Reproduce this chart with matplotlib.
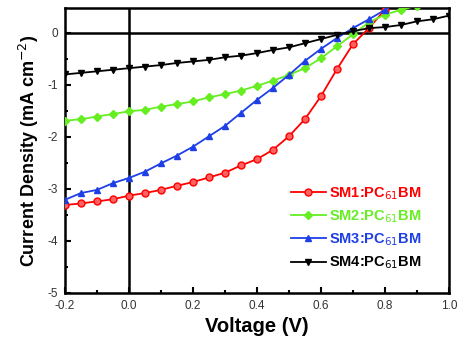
import numpy as np
import matplotlib
matplotlib.use('Agg')
import matplotlib.pyplot as plt
from matplotlib.ticker import MultipleLocator

plt.rcParams['font.family'] = ['Liberation Sans', 'DejaVu Sans']
plt.rcParams['axes.unicode_minus'] = False

voltage = np.round(np.arange(-0.2, 1.001, 0.05), 2)

sm1 = [-3.31, -3.28, -3.24, -3.20, -3.13, -3.08, -3.02, -2.94, -2.87, -2.78, -2.69,
       -2.55, -2.43, -2.25, -1.99, -1.66, -1.22, -0.70, -0.22, 0.09, 0.44, 0.80, 1.2, 1.6, 2.0]
sm2 = [-1.69, -1.66, -1.61, -1.56, -1.51, -1.48, -1.42, -1.37, -1.32, -1.24, -1.18,
       -1.11, -1.02, -0.92, -0.81, -0.68, -0.49, -0.26, -0.03, 0.20, 0.35, 0.44, 0.52, 0.62, 0.75]
sm3 = [-3.21, -3.08, -3.02, -2.89, -2.79, -2.67, -2.51, -2.36, -2.19, -1.99, -1.79,
       -1.54, -1.29, -1.06, -0.81, -0.54, -0.31, -0.10, 0.09, 0.26, 0.44, 0.65, 0.9, 1.2, 1.5]
sm4 = [-0.80, -0.77, -0.74, -0.71, -0.68, -0.65, -0.62, -0.58, -0.55, -0.52, -0.47,
       -0.44, -0.39, -0.33, -0.28, -0.20, -0.12, -0.04, 0.03, 0.09, 0.11, 0.15, 0.22, 0.26, 0.33]

labels = ['SM1:PC$_{61}$BM', 'SM2:PC$_{61}$BM', 'SM3:PC$_{61}$BM', 'SM4:PC$_{61}$BM']
colors = ['#ff0000', '#66ee22', '#1f3fe6', '#000000']
markers = ['o', 'D', '^', 'v']

fig = plt.figure(figsize=(4.74, 3.41), dpi=100)
ax = fig.add_axes([0.137, 0.141, 0.810, 0.836])

series = [sm1, sm2, sm3, sm4]
for ys, c, m, lab in zip(series, colors, markers, labels):
    ms = 5 if m != 'D' else 4.2
    mfc = '#ff6060' if m == 'o' else c
    ax.plot(voltage, ys, color=c, marker=m, markersize=ms, markerfacecolor=mfc,
            markeredgecolor=c, linewidth=1.3, label=lab, zorder=3)

ax.axhline(0, color='black', linewidth=1.8, zorder=2)
ax.axvline(0, color='black', linewidth=1.8, zorder=2)

ax.set_xlim(-0.2, 1.0)
ax.set_ylim(-5, 0.48)
ax.xaxis.set_minor_locator(MultipleLocator(0.1))
ax.yaxis.set_major_locator(MultipleLocator(1))
ax.yaxis.set_minor_locator(MultipleLocator(0.5))
ax.set_xticks(np.round(np.arange(-0.2, 1.01, 0.2), 1))
ax.set_xticklabels(['-0.2', '0.0', '0.2', '0.4', '0.6', '0.8', '1.0'])
ax.tick_params(which='both', direction='in', top=False, right=False, width=1.5,
               labelsize=8.5, labelcolor='#333333')
ax.tick_params(which='major', length=4, pad=5)
ax.tick_params(which='minor', length=2.5)
for sp in ax.spines.values():
    sp.set_linewidth(1.8)

ax.set_xlabel('Voltage (V)', fontsize=14.5, fontweight='bold', labelpad=4)
ax.set_ylabel('Current Density (mA cm$^{-2}$)', fontsize=13, fontweight='bold', labelpad=5)

leg = ax.legend(loc='lower right', bbox_to_anchor=(0.955, 0.04), frameon=False,
                fontsize=10.5, handlelength=2.4, handletextpad=0.2, labelspacing=0.45,
                borderpad=0.2)
for txt, c in zip(leg.get_texts(), colors):
    txt.set_color(c)
    txt.set_fontweight('bold')

fig.savefig('out.png', dpi=100)
